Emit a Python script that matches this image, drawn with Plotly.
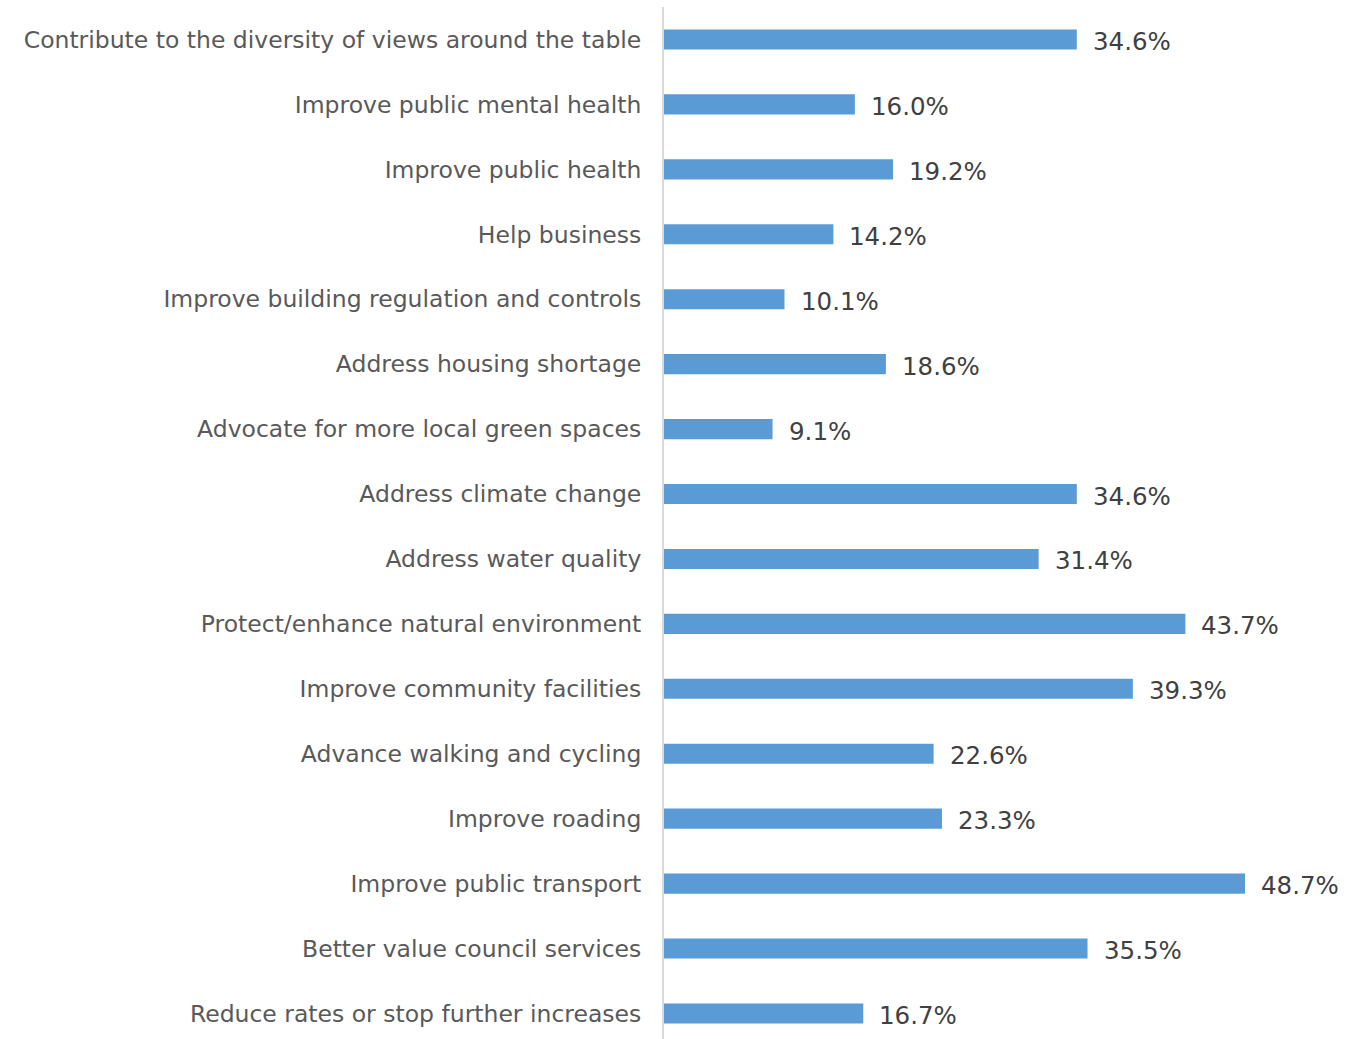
import plotly.graph_objects as go

# Reasons given, top to bottom as displayed
categories = [
    "Contribute to the diversity of views around the table",
    "Improve public mental health",
    "Improve public health",
    "Help business",
    "Improve building regulation and controls",
    "Address housing shortage",
    "Advocate for more local green spaces",
    "Address climate change",
    "Address water quality",
    "Protect/enhance natural environment",
    "Improve community facilities",
    "Advance walking and cycling",
    "Improve roading",
    "Improve public transport",
    "Better value council services",
    "Reduce rates or stop further increases",
]
percentages = [34.6, 16.0, 19.2, 14.2, 10.1, 18.6, 9.1, 34.6, 31.4, 43.7,
               39.3, 22.6, 23.3, 48.7, 35.5, 16.7]

# plotly draws the first category at the bottom, so reverse for display order
cats_plot = categories[::-1]
vals_plot = percentages[::-1]

BAR_COLOR = "#5B9BD5"
FONT = "DejaVu Sans"

fig = go.Figure(
    go.Bar(
        x=vals_plot,
        y=cats_plot,
        orientation="h",
        marker=dict(color=BAR_COLOR, line=dict(width=0)),
        width=0.31,
        hoverinfo="skip",
    )
)

# value labels just past the end of each bar
for cat, val in zip(cats_plot, vals_plot):
    fig.add_annotation(
        x=val, y=cat, xref="x", yref="y",
        text=f"{val:.1f}%", showarrow=False,
        xanchor="left", yanchor="middle", xshift=14, yshift=-2,
        font=dict(family=FONT, size=24.5, color="#404040"),
    )

fig.update_layout(
    width=1358, height=1039,
    margin=dict(l=664, r=0, t=7, b=0),
    paper_bgcolor="white", plot_bgcolor="white",
    showlegend=False,
    font=dict(family=FONT),
)
fig.update_xaxes(
    range=[0, 58.17], showgrid=False, zeroline=False,
    showticklabels=False, showline=False,
)
fig.update_yaxes(
    categoryorder="array", categoryarray=cats_plot,
    range=[-0.393, 15.5],
    showgrid=False, zeroline=False,
    showline=True, linecolor="#D9D9D9", linewidth=2,
    ticks="outside", ticklen=16, tickcolor="rgba(0,0,0,0)",
    tickfont=dict(family=FONT, size=23.5, color="#595959"),
)

fig.write_html("out.html")
